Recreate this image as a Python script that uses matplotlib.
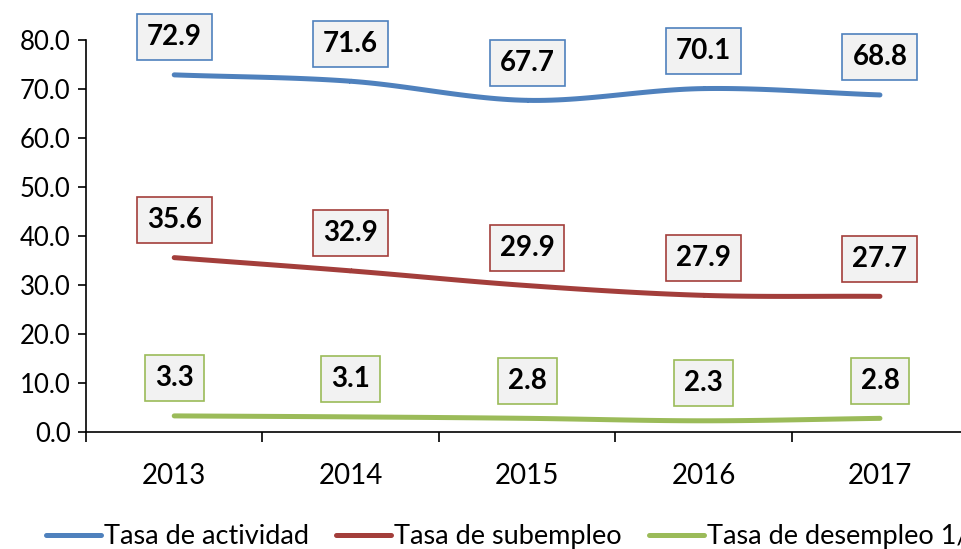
import matplotlib
matplotlib.use("Agg")
import matplotlib.pyplot as plt
import numpy as np

plt.rcParams["font.family"] = ["Lato", "DejaVu Sans"]

years = ["2013", "2014", "2015", "2016", "2017"]
actividad = [72.9, 71.6, 67.7, 70.1, 68.8]
subempleo = [35.6, 32.9, 29.9, 27.9, 27.7]
desempleo = [3.3, 3.1, 2.8, 2.3, 2.8]
series_names = ["Tasa de actividad", "Tasa de subempleo", "Tasa de desempleo 1/"]
colors = ["#4F81BD", "#A33E3B", "#9BBB59"]
yticks = [0, 10, 20, 30, 40, 50, 60, 70, 80]


def smooth(x, y, n=30):
    # Catmull-Rom style curve through the points (like Excel's smoothed line)
    x = np.asarray(x, float)
    y = np.asarray(y, float)
    px = np.concatenate([[2 * x[0] - x[1]], x, [2 * x[-1] - x[-2]]])
    py = np.concatenate([[2 * y[0] - y[1]], y, [2 * y[-1] - y[-2]]])
    xs, ys = [], []
    t = np.linspace(0, 1, n)
    for i in range(1, len(px) - 2):
        for p, out in ((px, xs), (py, ys)):
            p0, p1, p2, p3 = p[i - 1], p[i], p[i + 1], p[i + 2]
            seg = 0.5 * ((2 * p1) + (-p0 + p2) * t
                         + (2 * p0 - 5 * p1 + 4 * p2 - p3) * t ** 2
                         + (-p0 + 3 * p1 - 3 * p2 + p3) * t ** 3)
            out.extend(seg)
    return np.array(xs), np.array(ys)


fig = plt.figure(figsize=(9.62, 5.49), dpi=100)
ax = fig.add_axes([0.0894, 0.213, 0.917, 0.714])

x = np.arange(len(years))
for vals, name, c in zip([actividad, subempleo, desempleo], series_names, colors):
    sx, sy = smooth(x, vals)
    ax.plot(sx, sy, color=c, linewidth=3.6, solid_capstyle="round", label=name)
    for xi, v in zip(x, vals):
        ax.annotate(f"{v:.1f}", (xi, v), xytext=(0, 27), textcoords="offset points",
                    ha="center", va="center", fontsize=20, fontweight="bold",
                    bbox=dict(boxstyle="square,pad=0.36", fc="#F2F2F2", ec=c, lw=1.2))

ax.set_xlim(-0.5, 4.5)
ax.set_ylim(0, 80)
ax.set_yticks(yticks)
ax.set_yticklabels([f"{t:.1f}" for t in yticks], fontsize=18.5)
ax.set_xticks(x)
ax.set_xticklabels(years, fontsize=20)
ax.set_xticks(np.arange(-0.5, 5, 1), minor=True)
ax.tick_params(axis="x", which="major", length=0, pad=22)
ax.tick_params(axis="x", which="minor", length=7, width=1.2, direction="out")
ax.tick_params(axis="y", length=6, width=1.2, direction="out", pad=5)
for s in ["top", "right"]:
    ax.spines[s].set_visible(False)
for s in ["left", "bottom"]:
    ax.spines[s].set_linewidth(1.2)

# legend runs off the right edge, as in the original
fig.legend(loc="center left", bbox_to_anchor=(0.022, 0.022), ncol=3, frameon=False,
           fontsize=19.5, handlelength=2.05, handletextpad=0.1, columnspacing=1.0)

fig.savefig("out.png", dpi=100)
plt.close(fig)
